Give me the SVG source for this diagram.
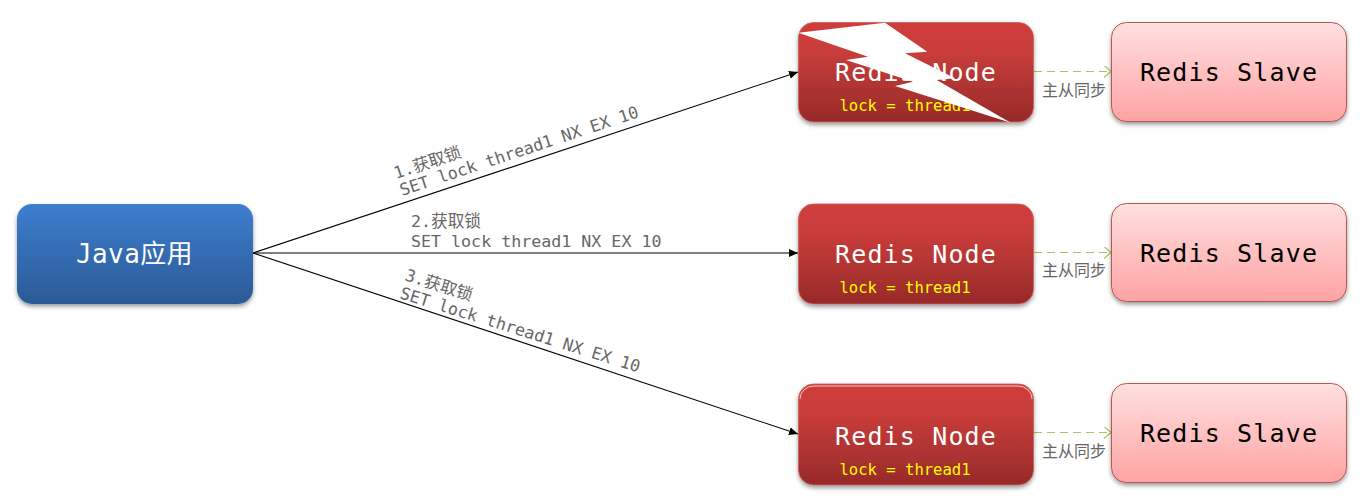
<svg xmlns="http://www.w3.org/2000/svg" width="1363" height="504" viewBox="0 0 1363 504">
<style>
.box{filter:url(#sh)}
.blue{fill:url(#gb)}
.red{fill:url(#gr);stroke:#c9615f;stroke-width:.8}
.pink{fill:url(#gp);stroke:#b85450;stroke-width:1}
.mono{font-family:"DejaVu Sans Mono","Noto Sans CJK SC",monospace}
.big{font-size:25px;letter-spacing:1.15px;text-anchor:middle}
.lbl{font-size:16.65px;fill:#666}
.lock{font-size:15.55px;fill:#ffff00}
.sync{font-family:"Noto Sans CJK SC",sans-serif;font-size:16px;fill:#666;text-anchor:middle}
.zh{font-family:"Noto Sans CJK SC",sans-serif}
.c{fill:none;stroke:#000;stroke-width:1.1}
.d{fill:none;stroke:#a4c661;stroke-width:1.2;stroke-dasharray:8 5}
</style>
<defs>
<linearGradient id="gb" x1="0" y1="0" x2="0" y2="1"><stop offset="0" stop-color="#3d7ecf"/><stop offset="1" stop-color="#2b5a96"/></linearGradient>
<linearGradient id="gr" x1="0" y1="0" x2="0" y2="1"><stop offset="0" stop-color="#d03e3b"/><stop offset="0.3" stop-color="#c83d3a"/><stop offset="1" stop-color="#972a29"/></linearGradient>
<linearGradient id="gp" x1="0" y1="0" x2="0" y2="1"><stop offset="0" stop-color="#ffe0e0"/><stop offset="1" stop-color="#ffa3a3"/></linearGradient>
<filter id="sh" x="-5%" y="-10%" width="110%" height="125%"><feDropShadow dx="0" dy="2.500" stdDeviation="2" flood-color="#000" flood-opacity="0.4"/></filter>
<marker id="a" markerWidth="10" markerHeight="8" refX="9" refY="4" orient="auto" markerUnits="userSpaceOnUse"><path d="M0,0L9,4L0,8Z" fill="#000"/></marker>
<marker id="o" markerWidth="12" markerHeight="14" refX="10" refY="6" orient="auto" markerUnits="userSpaceOnUse"><path d="M3,0L10,6L3,12" fill="none" stroke="#a4c661" stroke-width="1.2"/></marker>
</defs>
<g id="connectors">
<path class="c" d="M253,253L798,72" marker-end="url(#a)"/>
<path class="c" d="M253,253L798,253" marker-end="url(#a)"/>
<path class="c" d="M253,253L798,434" marker-end="url(#a)"/>
<path class="d" d="M1034,71.500L1111,71.500" marker-end="url(#o)"/>
<path class="d" d="M1034,252.500L1111,252.500" marker-end="url(#o)"/>
<path class="d" d="M1034,432.500L1111,432.500" marker-end="url(#o)"/>
</g>
<g id="java"><rect class="box blue" x="17" y="204" width="236" height="100" rx="15"/><text x="76" y="263" class="mono" fill="#fff" font-size="26" letter-spacing="0.4">Java应用</text></g>
<g id="node1"><rect class="box red" x="798.500" y="22.500" width="235" height="99.500" rx="15"/><text x="916" y="81" class="mono big" fill="#fff">Redis Node</text><text x="839.500" y="111" class="mono lock">lock = thread1</text></g>
<g id="node2"><rect class="box red" x="798.500" y="204" width="235" height="100" rx="15"/><text x="916" y="263" class="mono big" fill="#fff">Redis Node</text><text x="839.500" y="293" class="mono lock">lock = thread1</text></g>
<g id="node3"><rect class="box red" x="798.500" y="384" width="235" height="101" rx="15"/><path d="M800,399a14,13 0 0 1 14,-13h204a14,13 0 0 1 14,13" fill="none" stroke="#f0c8c8" stroke-width="1"/><text x="916" y="445" class="mono big" fill="#fff">Redis Node</text><text x="839.500" y="475" class="mono lock">lock = thread1</text></g>
<g id="slave1"><rect class="box pink" x="1111.500" y="22.500" width="235" height="99" rx="15"/><text x="1229" y="81" class="mono big" fill="#000">Redis Slave</text></g>
<g id="slave2"><rect class="box pink" x="1111.500" y="203.500" width="235" height="98" rx="15"/><text x="1229" y="262" class="mono big" fill="#000">Redis Slave</text></g>
<g id="slave3"><rect class="box pink" x="1111.500" y="383.500" width="235" height="99" rx="15"/><text x="1229" y="442" class="mono big" fill="#000">Redis Slave</text></g>
<g id="labels">
<text class="sync" x="1074" y="96">主从同步</text>
<text class="sync" x="1074" y="276">主从同步</text>
<text class="sync" x="1074" y="457">主从同步</text>
<text class="mono lbl" transform="translate(396,179) rotate(-18.400)">1.<tspan class="zh">获取锁</tspan></text>
<text class="mono lbl" transform="translate(402,196) rotate(-18.400)">SET lock thread1 NX EX 10</text>
<text class="mono lbl" x="411" y="227">2.<tspan class="zh">获取锁</tspan></text>
<text class="mono lbl" x="411" y="247">SET lock thread1 NX EX 10</text>
<text class="mono lbl" transform="translate(404,280) rotate(17.500)">3.<tspan class="zh">获取锁</tspan></text>
<text class="mono lbl" transform="translate(399,298) rotate(17.300)">SET lock thread1 NX EX 10</text>
</g>
<polygon id="bolt" fill="#fff" points="798.300,32.700 885,22.700 927.300,51.700 905,53.300 955,78.300 936.700,80 1010.700,122.700 895,86 913,81.700 846,60 868,56.700"/>
</svg>
